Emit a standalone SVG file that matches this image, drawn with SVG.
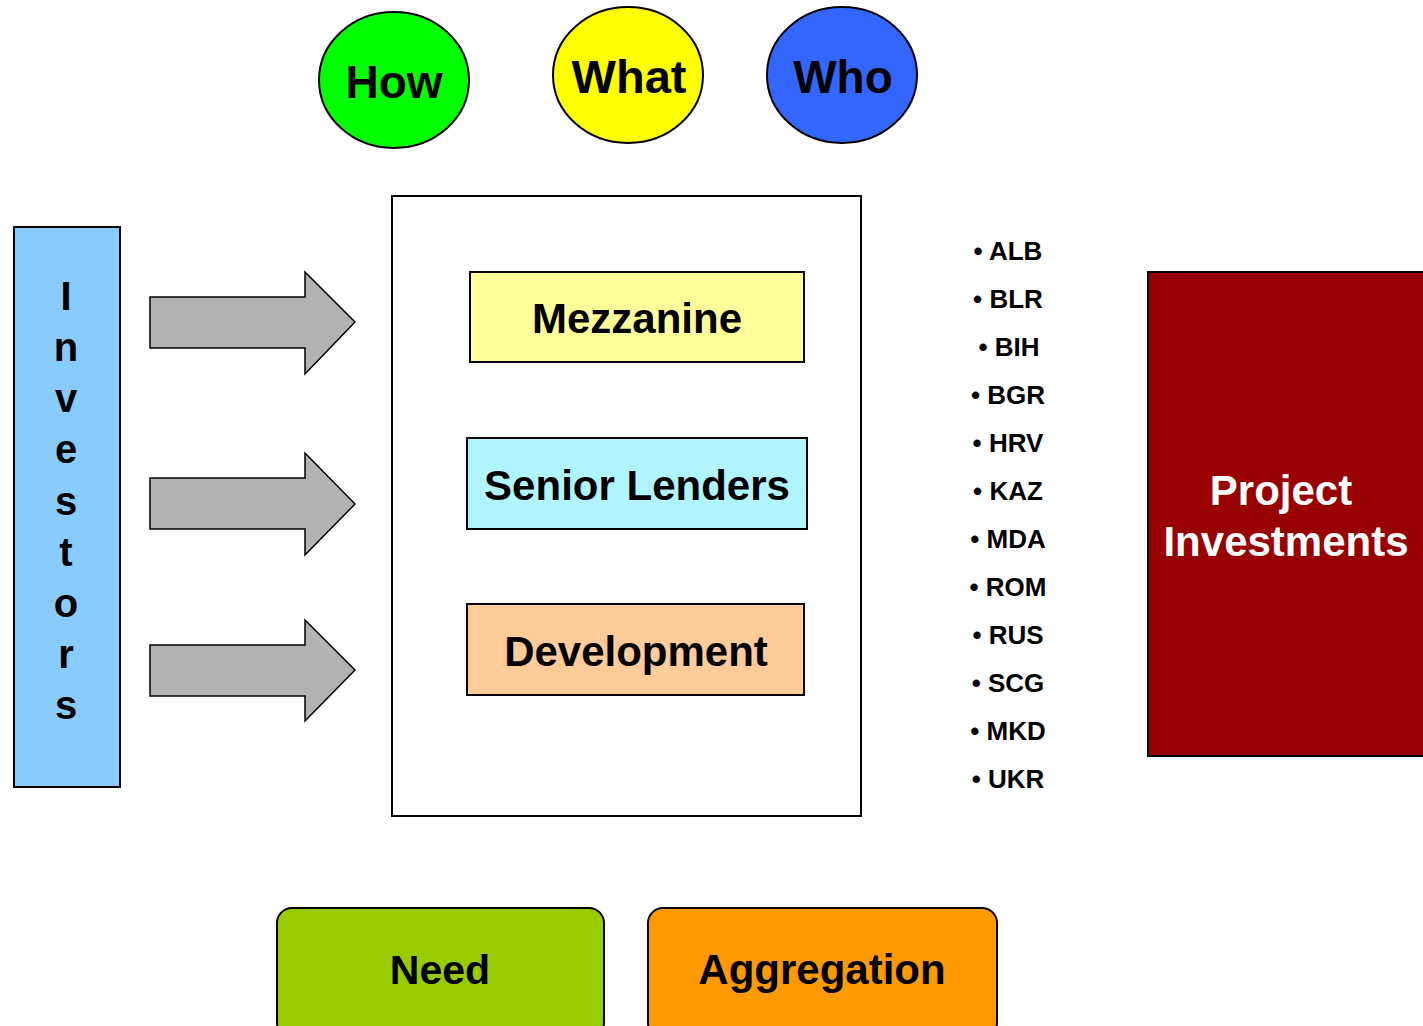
<svg xmlns="http://www.w3.org/2000/svg" width="1423" height="1026" viewBox="0 0 1423 1026">
<style>
text{font-family:"Liberation Sans",Arial,sans-serif;font-weight:bold;text-anchor:middle;fill:#000}
.s{stroke:#000;stroke-width:2}
.arrow{fill:#B2B2B2;stroke:#000;stroke-width:1.5}
.lst{font-size:26px}
</style>
<rect width="1423" height="1026" fill="#fff"/>
<g id="how"><ellipse class="s" cx="394" cy="80" rx="75" ry="68" fill="#00FF00"/><text x="394" y="98" font-size="46">How</text></g>
<g id="what"><ellipse class="s" cx="628" cy="75" rx="75" ry="68" fill="#FFFF00"/><text x="629" y="93" font-size="47">What</text></g>
<g id="who"><ellipse class="s" cx="842" cy="75" rx="75" ry="68" fill="#3366FF"/><text x="843" y="93" font-size="46">Who</text></g>
<g id="investors"><rect class="s" x="14" y="227" width="106" height="560" fill="#88CCFF"/>
<g font-size="40">
<text x="66" y="310">I</text><text x="66" y="361">n</text><text x="66" y="412">v</text><text x="66" y="463">e</text><text x="66" y="515">s</text><text x="66" y="566">t</text><text x="66" y="617">o</text><text x="66" y="668">r</text><text x="66" y="719">s</text>
</g></g>
<g id="connectors">
<path class="arrow" d="M150 297H305V272L355 322L305 374V348H150Z"/>
<path class="arrow" d="M150 478H305V453L355 504L305 555V529H150Z"/>
<path class="arrow" d="M150 645H305V620L355 670L305 721V696H150Z"/>
</g>
<g id="container"><rect class="s" x="392" y="196" width="469" height="620" fill="#fff"/></g>
<g id="mezzanine"><rect class="s" x="470" y="272" width="334" height="90" fill="#FFFF99"/><text x="637" y="333" font-size="42">Mezzanine</text></g>
<g id="senior"><rect class="s" x="467" y="438" width="340" height="91" fill="#B0F4FF"/><text x="637" y="500" font-size="42">Senior Lenders</text></g>
<g id="development"><rect class="s" x="467" y="604" width="337" height="91" fill="#FFCC99"/><text x="636" y="666" font-size="42">Development</text></g>
<g id="countries" class="lst">
<text x="1008" y="260">• ALB</text>
<text x="1008" y="308">• BLR</text>
<text x="1009" y="356">• BIH</text>
<text x="1008" y="404">• BGR</text>
<text x="1008" y="452">• HRV</text>
<text x="1008" y="500">• KAZ</text>
<text x="1008" y="548">• MDA</text>
<text x="1008" y="596">• ROM</text>
<text x="1008" y="644">• RUS</text>
<text x="1008" y="692">• SCG</text>
<text x="1008" y="740">• MKD</text>
<text x="1008" y="788">• UKR</text>
</g>
<g id="project"><rect class="s" x="1148" y="272" width="290" height="484" fill="#990000"/>
<text x="1281" y="505" font-size="42" style="fill:#fff">Project</text>
<text x="1286" y="556" font-size="42" style="fill:#fff">Investments</text></g>
<g id="need"><rect class="s" x="277" y="908" width="327" height="130" rx="15" fill="#99CC00"/><text x="440" y="984" font-size="41">Need</text></g>
<g id="aggregation"><rect class="s" x="648" y="908" width="349" height="130" rx="15" fill="#FF9900"/><text x="822" y="984" font-size="42">Aggregation</text></g>
</svg>
